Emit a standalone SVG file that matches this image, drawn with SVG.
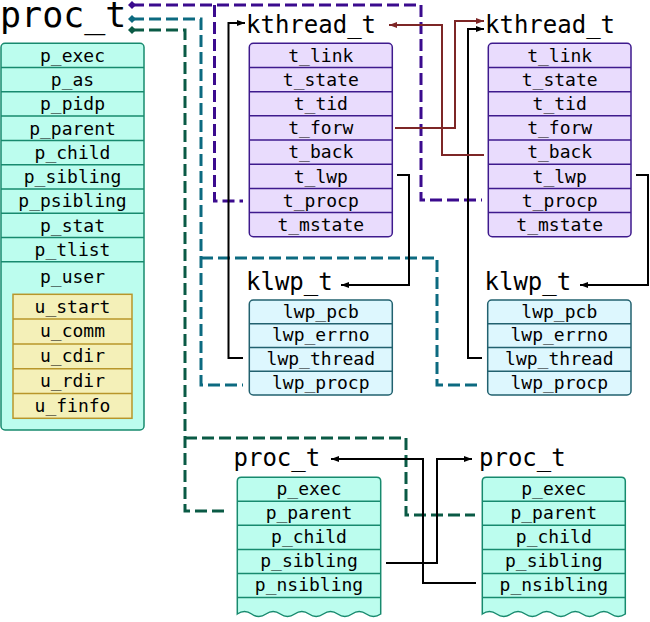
<svg xmlns="http://www.w3.org/2000/svg" width="650" height="622" viewBox="0 0 650 622">
<style>
text{font-family:"DejaVu Sans Mono","Liberation Mono",monospace;fill:#000}
.r{font-size:18px;text-anchor:middle}
.t{font-size:24px}
.pf{fill:#bcfdee;stroke:#178a6e;stroke-width:1.5}
.pl{fill:none;stroke:#178a6e;stroke-width:1.5}
.uf{fill:#f4f0b8;stroke:#b8962a;stroke-width:1.5}
.ul{fill:none;stroke:#b8962a;stroke-width:1.5}
.kf{fill:#e9dcfd;stroke:#3e1a8d;stroke-width:1.5}
.kl{fill:none;stroke:#3e1a8d;stroke-width:1.5}
.lf{fill:#ddf7fe;stroke:#22616f;stroke-width:1.5}
.ll{fill:none;stroke:#22616f;stroke-width:1.5}
.dp{fill:none;stroke:#3b0b8e;stroke-width:3;stroke-dasharray:12 5}
.dt{fill:none;stroke:#0c6a80;stroke-width:3;stroke-dasharray:12 5}
.dg{fill:none;stroke:#0a5a45;stroke-width:3;stroke-dasharray:12 5}
.bk{fill:none;stroke:#000;stroke-width:2;marker-end:url(#ab)}
.rd{fill:none;stroke:#7d2626;stroke-width:2;marker-end:url(#ar)}
</style>
<defs>
<marker id="ab" viewBox="0 0 8 6" refX="8" refY="3" markerWidth="8" markerHeight="6" markerUnits="userSpaceOnUse" orient="auto"><path d="M0,0 L8,3 L0,6 z" fill="#000"/></marker>
<marker id="ar" viewBox="0 0 8 6" refX="8" refY="3" markerWidth="8" markerHeight="6" markerUnits="userSpaceOnUse" orient="auto"><path d="M0,0 L8,3 L0,6 z" fill="#7d2626"/></marker>
<marker id="mp" viewBox="0 0 8 8" refX="4" refY="4" markerWidth="8" markerHeight="8" markerUnits="userSpaceOnUse" orient="auto"><path d="M0,4 L4,0 L8,4 L4,8 z" fill="#3b0b8e"/></marker>
<marker id="mt" viewBox="0 0 8 8" refX="4" refY="4" markerWidth="8" markerHeight="8" markerUnits="userSpaceOnUse" orient="auto"><path d="M0,4 L4,0 L8,4 L4,8 z" fill="#0c6a80"/></marker>
<marker id="mg" viewBox="0 0 8 8" refX="4" refY="4" markerWidth="8" markerHeight="8" markerUnits="userSpaceOnUse" orient="auto"><path d="M0,4 L4,0 L8,4 L4,8 z" fill="#0a5a45"/></marker>
</defs>

<g id="proc_main">
<text x="0" y="27" style="font-size:35px">proc_t</text>
<rect class="pf" x="1" y="43.3" width="143" height="386.7" rx="4"/>
<path class="pl" d="M1,67.6H144M1,91.8H144M1,116.1H144M1,140.4H144M1,164.7H144M1,188.9H144M1,213.2H144M1,237.4H144M1,261.7H144"/>
<text class="r" x="72.5" y="61.7">p_exec</text>
<text class="r" x="72.5" y="86">p_as</text>
<text class="r" x="72.5" y="110.2">p_pidp</text>
<text class="r" x="72.5" y="134.5">p_parent</text>
<text class="r" x="72.5" y="158.8">p_child</text>
<text class="r" x="72.5" y="183.1">p_sibling</text>
<text class="r" x="72.5" y="207.3">p_psibling</text>
<text class="r" x="72.5" y="231.6">p_stat</text>
<text class="r" x="72.5" y="255.9">p_tlist</text>
<text class="r" x="72.5" y="283">p_user</text>
<g id="u_area">
<rect class="uf" x="13" y="294.3" width="119" height="124"/>
<path class="ul" d="M13,319.1H132M13,343.9H132M13,368.7H132M13,393.5H132"/>
<text class="r" x="72.5" y="312.5">u_start</text>
<text class="r" x="72.5" y="337.3">u_comm</text>
<text class="r" x="72.5" y="362.1">u_cdir</text>
<text class="r" x="72.5" y="386.9">u_rdir</text>
<text class="r" x="72.5" y="411.7">u_finfo</text>
</g>
</g>

<g id="kthread_1">
<text class="t" x="246" y="33">kthread_t</text>
<rect class="kf" x="249.3" y="43.3" width="143" height="193.4" rx="4"/>
<path class="kl" d="M249.3,67.5H392.3M249.3,91.7H392.3M249.3,115.8H392.3M249.3,140H392.3M249.3,164.2H392.3M249.3,188.4H392.3M249.3,212.5H392.3"/>
<text class="r" x="320.8" y="61.7">t_link</text>
<text class="r" x="320.8" y="85.9">t_state</text>
<text class="r" x="320.8" y="110">t_tid</text>
<text class="r" x="320.8" y="134.2">t_forw</text>
<text class="r" x="320.8" y="158.4">t_back</text>
<text class="r" x="320.8" y="182.6">t_lwp</text>
<text class="r" x="320.8" y="206.8">t_procp</text>
<text class="r" x="320.8" y="230.9">t_mstate</text>
</g>

<g id="kthread_2">
<text class="t" x="485" y="33">kthread_t</text>
<rect class="kf" x="488.3" y="43.3" width="142.7" height="193.4" rx="4"/>
<path class="kl" d="M488.3,67.5H631M488.3,91.7H631M488.3,115.8H631M488.3,140H631M488.3,164.2H631M488.3,188.4H631M488.3,212.5H631"/>
<text class="r" x="559.7" y="61.7">t_link</text>
<text class="r" x="559.7" y="85.9">t_state</text>
<text class="r" x="559.7" y="110">t_tid</text>
<text class="r" x="559.7" y="134.2">t_forw</text>
<text class="r" x="559.7" y="158.4">t_back</text>
<text class="r" x="559.7" y="182.6">t_lwp</text>
<text class="r" x="559.7" y="206.8">t_procp</text>
<text class="r" x="559.7" y="230.9">t_mstate</text>
</g>

<g id="klwp_1">
<text class="t" x="246" y="290">klwp_t</text>
<rect class="lf" x="249.3" y="300" width="143" height="95" rx="4"/>
<path class="ll" d="M249.3,323.75H392.3M249.3,347.5H392.3M249.3,371.25H392.3"/>
<text class="r" x="320.8" y="317.6">lwp_pcb</text>
<text class="r" x="320.8" y="341.4">lwp_errno</text>
<text class="r" x="320.8" y="365.1">lwp_thread</text>
<text class="r" x="320.8" y="388.9">lwp_procp</text>
</g>

<g id="klwp_2">
<text class="t" x="484.5" y="290">klwp_t</text>
<rect class="lf" x="487.7" y="300" width="143.3" height="95" rx="4"/>
<path class="ll" d="M487.7,323.75H631M487.7,347.5H631M487.7,371.25H631"/>
<text class="r" x="559.3" y="317.6">lwp_pcb</text>
<text class="r" x="559.3" y="341.4">lwp_errno</text>
<text class="r" x="559.3" y="365.1">lwp_thread</text>
<text class="r" x="559.3" y="388.9">lwp_procp</text>
</g>

<g id="proc_2">
<text class="t" x="233.5" y="466">proc_t</text>
<path class="pf" d="M237.3,481.3Q237.3,477.3 241.3,477.3H376.7Q380.7,477.3 380.7,481.3V614q-7.17,5 -14.34,0q-7.17,-5 -14.34,0q-7.17,5 -14.34,0q-7.17,-5 -14.34,0q-7.17,5 -14.34,0q-7.17,-5 -14.34,0q-7.17,5 -14.34,0q-7.17,-5 -14.34,0q-7.17,5 -14.34,0q-7.17,-5 -14.34,0Z"/>
<path class="pl" d="M237.3,501.2H380.7M237.3,525.3H380.7M237.3,549.4H380.7M237.3,573.5H380.7M237.3,597.6H380.7"/>
<text class="r" x="309" y="495">p_exec</text>
<text class="r" x="309" y="519.1">p_parent</text>
<text class="r" x="309" y="543.2">p_child</text>
<text class="r" x="309" y="567.3">p_sibling</text>
<text class="r" x="309" y="591.4">p_nsibling</text>
</g>

<g id="proc_3">
<text class="t" x="479" y="466">proc_t</text>
<path class="pf" d="M482.3,481.3Q482.3,477.3 486.3,477.3H621.3Q625.3,477.3 625.3,481.3V614q-7.15,5 -14.3,0q-7.15,-5 -14.3,0q-7.15,5 -14.3,0q-7.15,-5 -14.3,0q-7.15,5 -14.3,0q-7.15,-5 -14.3,0q-7.15,5 -14.3,0q-7.15,-5 -14.3,0q-7.15,5 -14.3,0q-7.15,-5 -14.3,0Z"/>
<path class="pl" d="M482.3,501.2H625.3M482.3,525.3H625.3M482.3,549.4H625.3M482.3,573.5H625.3M482.3,597.6H625.3"/>
<text class="r" x="553.8" y="495">p_exec</text>
<text class="r" x="553.8" y="519.1">p_parent</text>
<text class="r" x="553.8" y="543.2">p_child</text>
<text class="r" x="553.8" y="567.3">p_sibling</text>
<text class="r" x="553.8" y="591.4">p_nsibling</text>
</g>

<g id="connectors">
<path class="dp" d="M132,5H421V200H482" marker-start="url(#mp)"/>
<path class="dp" d="M214.5,5V201H243"/>
<path class="dt" d="M132,19H201V385H243" marker-start="url(#mt)"/>
<path class="dt" d="M201,258H437V385H482"/>
<path class="dg" d="M132,30H185V511H225" marker-start="url(#mg)"/>
<path class="dg" d="M185,438H406V515H475"/>
<path class="bk" d="M243,358H228.5V23H245"/>
<path class="bk" d="M397,175H409V285H341"/>
<path class="bk" d="M482,358H468V29H484"/>
<path class="bk" d="M636,175H648V285H580"/>
<path class="bk" d="M386,563H437V459H472"/>
<path class="bk" d="M476,583H423V459H331"/>
<path class="rd" d="M395,128H455V21H484"/>
<path class="rd" d="M484,155H442V25H389"/>
</g>
</svg>
